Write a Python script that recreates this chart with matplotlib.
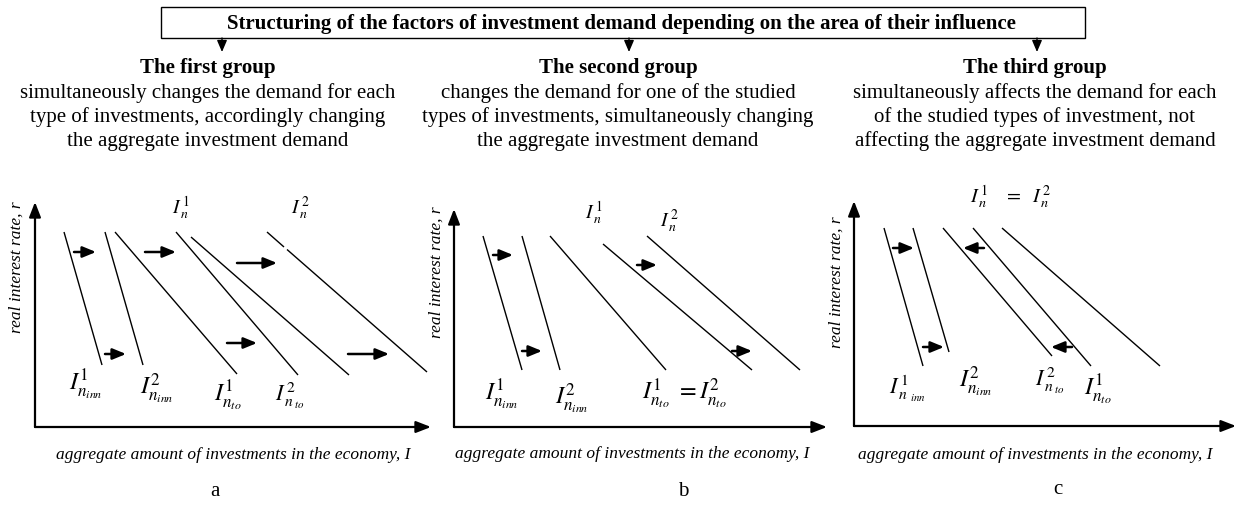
import matplotlib
matplotlib.use("Agg")
import matplotlib.pyplot as plt
from matplotlib.patches import Rectangle

plt.rcParams['font.family'] = ['Liberation Serif', 'DejaVu Serif']
plt.rcParams['mathtext.fontset'] = 'stix'

# ---------------- data (diagram coordinates) ----------------
TITLE = "Structuring of the factors of investment demand depending on the area of their influence"
GROUP_TITLES = ["The first group", "The second group", "The third group"]
GROUP_TEXT = [
    ["simultaneously changes the demand for each",
     "type of investments, accordingly changing",
     "the aggregate investment demand"],
    ["changes the demand for one of the studied",
     "types of investments, simultaneously changing",
     "the aggregate investment demand"],
    ["simultaneously affects the demand for each",
     "of the studied types of investment, not",
     "affecting the aggregate investment demand"],
]
GROUP_X = [208, 618, 1035]
ARROW_X = [222, 629, 1037]
PANEL_LETTERS = ["a", "b", "c"]
XLABEL = "aggregate amount of investments in the economy, I"
YLABEL = "real interest rate, r"

# axes of each panel: origin x, origin y, x-axis end, y-axis top
PANEL_AXES = [(35, 428, 431, 203), (454, 428, 827, 210), (854, 427, 1236, 202)]

# demand curves (x0, y0, x1, y1)
A_DEMAND = [(64, 233, 102, 366), (105, 233, 143, 366), (115, 233, 237, 375),
            (176, 233, 298, 376), (191, 238, 349, 376),
            (267, 233, 284, 248), (287, 250.5, 427, 373)]
B_DEMAND = [(483, 237, 522, 371), (522, 237, 560, 371), (550, 237, 666, 371),
            (603, 245, 752, 371), (647, 237, 800, 371)]
C_DEMAND = [(884, 229, 923, 367), (913, 229, 949, 353), (943, 229, 1052, 357),
            (973, 229, 1091, 367), (1002, 229, 1160, 367)]

# shift arrows (x_start, y, x_end)
A_SHIFTS = [(74, 253, 96), (145, 253, 176), (237, 264, 277),
            (105, 355, 126), (227, 344, 257), (348, 355, 389)]
B_SHIFTS = [(493, 256, 513), (522, 352, 542), (637, 266, 657), (732, 352, 752)]
C_SHIFTS = [(893, 249, 914), (984, 249, 963), (923, 348, 944), (1072, 348, 1051)]

# curve labels (x, y, text, size)
A_LABELS = [(181, 208, r'$I^{\,1}_{\,n}$', 14), (300, 208, r'$I^{\,2}_{\,n}$', 14),
            (86, 385, r'$I^{1}_{n_{inn}}$', 17.5), (157, 389, r'$I^{2}_{n_{inn}}$', 17.5),
            (228, 396, r'$I^{1}_{n_{to}}$', 17.5), (290, 396, r'$I^{\,2}_{\,n_{\;to}}$', 16)]
B_LABELS = [(594, 213, r'$I^{\,1}_{\,n}$', 14), (669, 221, r'$I^{\,2}_{\,n}$', 14),
            (502, 395, r'$I^{1}_{n_{inn}}$', 17.5), (572, 399, r'$I^{2}_{n_{inn}}$', 17.5),
            (684, 394, r'$I^{1}_{n_{to}}\ =I^{2}_{n_{to}}$', 17.5)]
C_LABELS = [(1011, 197, r'$I^{\,1}_{\,n}\quad=\ \ I^{\,2}_{\,n}$', 14.5),
            (907, 389, r'$I^{\,1}_{\,n\ _{inn}}$', 16), (976, 382, r'$I^{2}_{n_{inn}}$', 17.5),
            (1050, 381, r'$I^{\,2}_{\,n_{\;to}}$', 16), (1098, 390, r'$I^{1}_{n_{to}}$', 17.5)]

YLABEL_POS = [(17, 267), (437, 272), (837, 282)]
XLABEL_POS = [(233, 455), (632, 454), (1035, 455)]
LETTER_POS = [(215, 492), (683, 492), (1058, 490)]

# ---------------- drawing ----------------
fig = plt.figure(figsize=(12.36, 5.06), dpi=100)
ax = fig.add_axes([0, 0, 1, 1])
ax.set_xlim(0, 1236)
ax.set_ylim(506, 0)
ax.axis('off')

# title box
ax.add_patch(Rectangle((161, 8), 1085 - 161, 31, fill=False, lw=1.0, ec='black'))
ax.text(621, 23.5, TITLE, ha='center', va='center', fontsize=15, fontweight='bold')

for gx, ax_x, gt, lines in zip(GROUP_X, ARROW_X, GROUP_TITLES, GROUP_TEXT):
    ax.annotate('', xy=(ax_x, 53), xytext=(ax_x, 39),
                arrowprops=dict(arrowstyle='-|>,head_length=0.7,head_width=0.3',
                                mutation_scale=10, lw=1.0, color='black',
                                shrinkA=0, shrinkB=0))
    ax.text(gx, 68, gt, ha='center', va='center', fontsize=15, fontweight='bold')
    for i, ln in enumerate(lines):
        ax.text(gx, 93 + 24 * i, ln, ha='center', va='center', fontsize=15)


def axis_arrow(x0, y0, x1, y1):
    ax.annotate('', xy=(x1, y1), xytext=(x0, y0),
                arrowprops=dict(arrowstyle='-|>,head_length=0.9,head_width=0.35',
                                mutation_scale=10, lw=1.6, color='black',
                                shrinkA=0, shrinkB=0))


panels = [(A_DEMAND, A_SHIFTS, A_LABELS), (B_DEMAND, B_SHIFTS, B_LABELS),
          (C_DEMAND, C_SHIFTS, C_LABELS)]

for k, (dem, shifts, labels) in enumerate(panels):
    ox, oy, xe, yt = PANEL_AXES[k]
    axis_arrow(ox, oy, ox, yt)
    axis_arrow(ox, oy, xe, oy)
    for (x0, y0, x1, y1) in dem:
        ax.plot([x0, x1], [y0, y1], color='black', lw=1.0, solid_capstyle='butt')
    for (xs, y, xe2) in shifts:
        ax.annotate('', xy=(xe2, y), xytext=(xs, y),
                    arrowprops=dict(arrowstyle='-|>,head_length=0.8,head_width=0.33',
                                    mutation_scale=10, lw=1.8, color='black',
                                    shrinkA=0, shrinkB=0))
    for (x, y, t, s) in labels:
        ax.text(x, y, t, ha='center', va='center', fontsize=s)
    yx, yy = YLABEL_POS[k]
    ax.text(yx, yy, YLABEL, rotation=90, ha='center', va='center',
            fontsize=12.5, style='italic')
    xx, xy_ = XLABEL_POS[k]
    ax.text(xx, xy_, XLABEL, ha='center', va='center', fontsize=12.5, style='italic')
    lx, ly = LETTER_POS[k]
    ax.text(lx, ly, PANEL_LETTERS[k], ha='center', va='center', fontsize=15)

fig.savefig('out.png', dpi=100)
